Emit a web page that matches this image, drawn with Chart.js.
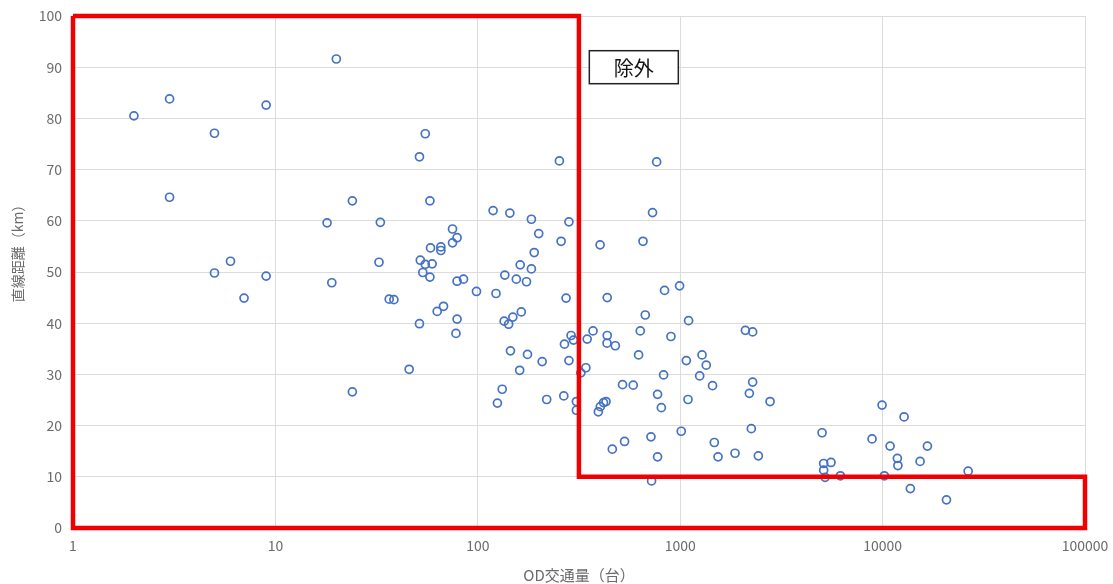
<!DOCTYPE html>
<html>
<head>
<meta charset="utf-8">
<script src="https://cdn.jsdelivr.net/npm/chart.js@4/dist/chart.umd.min.js"></script>
<style>
    body { margin: 0; background: #fff; }
    #wrap { width: 1113px; height: 584px; position: relative; }
</style>
</head>
<body>
<div id="wrap"><canvas id="odChart"></canvas></div>
<script>
// OD traffic (vehicles) vs straight-line distance (km)
const odVolume = [
    2, 3, 3, 5, 5, 6, 7, 9, 9, 20, 18, 19, 24, 24, 33, 32.5, 36.5, 38.5, 45.8,
    55, 51.5, 58, 75, 79, 75, 58.4, 65.7, 65.7, 52, 55, 59.5, 53.5, 58, 79, 85,
    63, 67.7, 51.5, 79, 78, 98.5, 119, 144, 184, 282, 253, 200, 258, 190, 162,
    184, 136, 155, 174, 123, 273, 135, 142, 149, 164, 289, 297, 268, 145, 176,
    208, 282, 161, 132, 125, 219, 266, 307, 307,
    765, 730, 402, 655, 837, 993, 436, 672, 1100, 635, 900, 347, 371, 436, 435,
    478, 623, 1072, 1282, 1345, 1248, 1445, 828, 342, 323, 519, 586, 773, 807,
    1093, 394, 403, 418, 430, 1012, 717, 531, 462, 773, 722, 1474, 1538, 1866,
    2099, 2280, 2280, 2196, 2780, 2246, 2433, 5023, 5115, 5560, 5115, 5200, 6185,
    9940, 12770, 8870, 10890, 11830, 11900, 15320, 16650, 10200, 13710, 20680, 26470
];
const distanceKm = [
    80.5, 83.8, 64.6, 77.1, 49.8, 52.1, 44.9, 82.6, 49.2, 91.6, 59.6, 47.9, 63.9, 26.6, 59.7, 51.9, 44.7, 44.6, 31.0,
    77.0, 72.5, 63.9, 58.4, 56.7, 55.7, 54.7, 54.9, 54.2, 52.3, 51.5, 51.6, 49.9, 49.0, 48.2, 48.6,
    42.3, 43.3, 39.9, 40.8, 38.0, 46.2, 62.0, 61.5, 60.3, 59.8, 71.7, 57.5, 56.0, 53.8, 51.4,
    50.6, 49.4, 48.6, 48.1, 45.8, 44.9, 40.4, 39.8, 41.2, 42.2, 37.6, 36.7, 35.9, 34.6, 33.9,
    32.5, 32.7, 30.8, 27.1, 24.4, 25.1, 25.8, 24.7, 23.0,
    71.5, 61.6, 55.3, 56.0, 46.4, 47.3, 45.0, 41.6, 40.5, 38.5, 37.4, 36.9, 38.5, 37.6, 36.1,
    35.6, 33.8, 32.7, 33.8, 31.8, 29.7, 27.8, 29.9, 31.3, 30.3, 28.0, 27.9, 26.1, 23.5,
    25.1, 22.7, 23.7, 24.5, 24.7, 18.9, 17.8, 16.9, 15.4, 13.9, 9.2, 16.7, 13.9, 14.6,
    38.6, 38.3, 28.5, 26.3, 24.7, 19.4, 14.1, 18.6, 12.6, 12.8, 11.3, 9.9, 10.2,
    24.0, 21.7, 17.4, 16.0, 13.6, 12.2, 13.0, 16.0, 10.2, 7.7, 5.5, 11.1
];

// outline of the kept region (red)
const regionX = [1, 316, 316, 100000, 100000, 1, 1];
const regionY = [100, 100, 10, 10, 0, 0, 100];

const xTicks = [1, 10, 100, 1000, 10000, 100000];
const excludeLabel = '除外';
const excludeAt = { x: 590, y: 90 };
const yTitle = '直線距離（km）';

const tickFont = { family: "'Noto Sans CJK JP', 'Noto Sans'", size: 14 };
const textGray = '#6b6b6b';

// boxed "除外" note + y axis title
const labelBox = {
    id: 'labelBox',
    afterDatasetsDraw(chart) {
        const ctx = chart.ctx;
        const cx = chart.scales.x.getPixelForValue(excludeAt.x);
        const cy = chart.scales.y.getPixelForValue(excludeAt.y);
        const w = 89, h = 33;
        ctx.save();
        ctx.fillStyle = '#fff';
        ctx.fillRect(cx - w / 2, cy - h / 2, w, h);
        ctx.strokeStyle = '#222';
        ctx.lineWidth = 1.5;
        ctx.strokeRect(cx - w / 2, cy - h / 2, w, h);
        ctx.fillStyle = '#111';
        ctx.font = "20px 'Noto Sans CJK JP'";
        ctx.textAlign = 'center';
        ctx.textBaseline = 'middle';
        ctx.fillText(excludeLabel, cx, cy + 1);

        // y title, rotated
        ctx.translate(18, 250);
        ctx.rotate(-Math.PI / 2);
        ctx.fillStyle = textGray;
        ctx.font = "14px 'Noto Sans CJK JP'";
        ctx.fillText(yTitle, 0, 0);
        ctx.restore();
    }
};

const ctx = document.getElementById('odChart').getContext('2d');
new Chart(ctx, {
    type: 'scatter',
    data: {
        datasets: [
            {
                label: 'region',
                data: regionX.map((x, i) => ({ x: x, y: regionY[i] })),
                showLine: true,
                borderColor: 'rgb(240, 0, 0)',
                borderWidth: 4.5,
                pointRadius: 0,
                fill: false,
                clip: false,
                order: 0
            },
            {
                label: 'OD',
                data: odVolume.map((x, i) => ({ x: x, y: distanceKm[i] })),
                pointStyle: 'circle',
                pointRadius: 4,
                pointBorderWidth: 1.7,
                pointBorderColor: '#4472C4',
                pointBackgroundColor: 'rgba(255,255,255,0)',
                order: 1
            }
        ]
    },
    options: {
        responsive: true,
        maintainAspectRatio: false,
        animation: false,
        layout: { padding: { top: 16, right: 28, left: 0, bottom: 0 } },
        plugins: {
            legend: { display: false },
            tooltip: { enabled: false }
        },
        scales: {
            x: {
                type: 'logarithmic',
                min: 1,
                max: 100000,
                afterBuildTicks: scale => { scale.ticks = xTicks.map(v => ({ value: v })); },
                afterFit: scale => {
                    scale.height = 56;
                    scale.paddingLeft = 0;
                    scale.paddingRight = 0;
                },
                grid: { color: '#dcdcdc', lineWidth: 1, drawTicks: false },
                border: { display: false },
                ticks: {
                    color: textGray,
                    font: tickFont,
                    padding: 9,
                    maxRotation: 0,
                    autoSkip: false,
                    callback: v => String(v)
                },
                title: {
                    display: true,
                    text: 'OD交通量（台）',
                    color: textGray,
                    font: { family: "'Noto Sans CJK JP'", size: 15 },
                    padding: { top: 2, bottom: 0 }
                }
            },
            y: {
                min: 0,
                max: 100,
                afterFit: scale => {
                    scale.width = 73;
                    scale.paddingTop = 0;
                    scale.paddingBottom = 0;
                },
                grid: { color: '#dcdcdc', lineWidth: 1, drawTicks: false },
                border: { display: false },
                ticks: {
                    stepSize: 10,
                    color: textGray,
                    font: tickFont,
                    padding: 11
                }
            }
        }
    },
    plugins: [labelBox]
});
</script>
</body>
</html>
